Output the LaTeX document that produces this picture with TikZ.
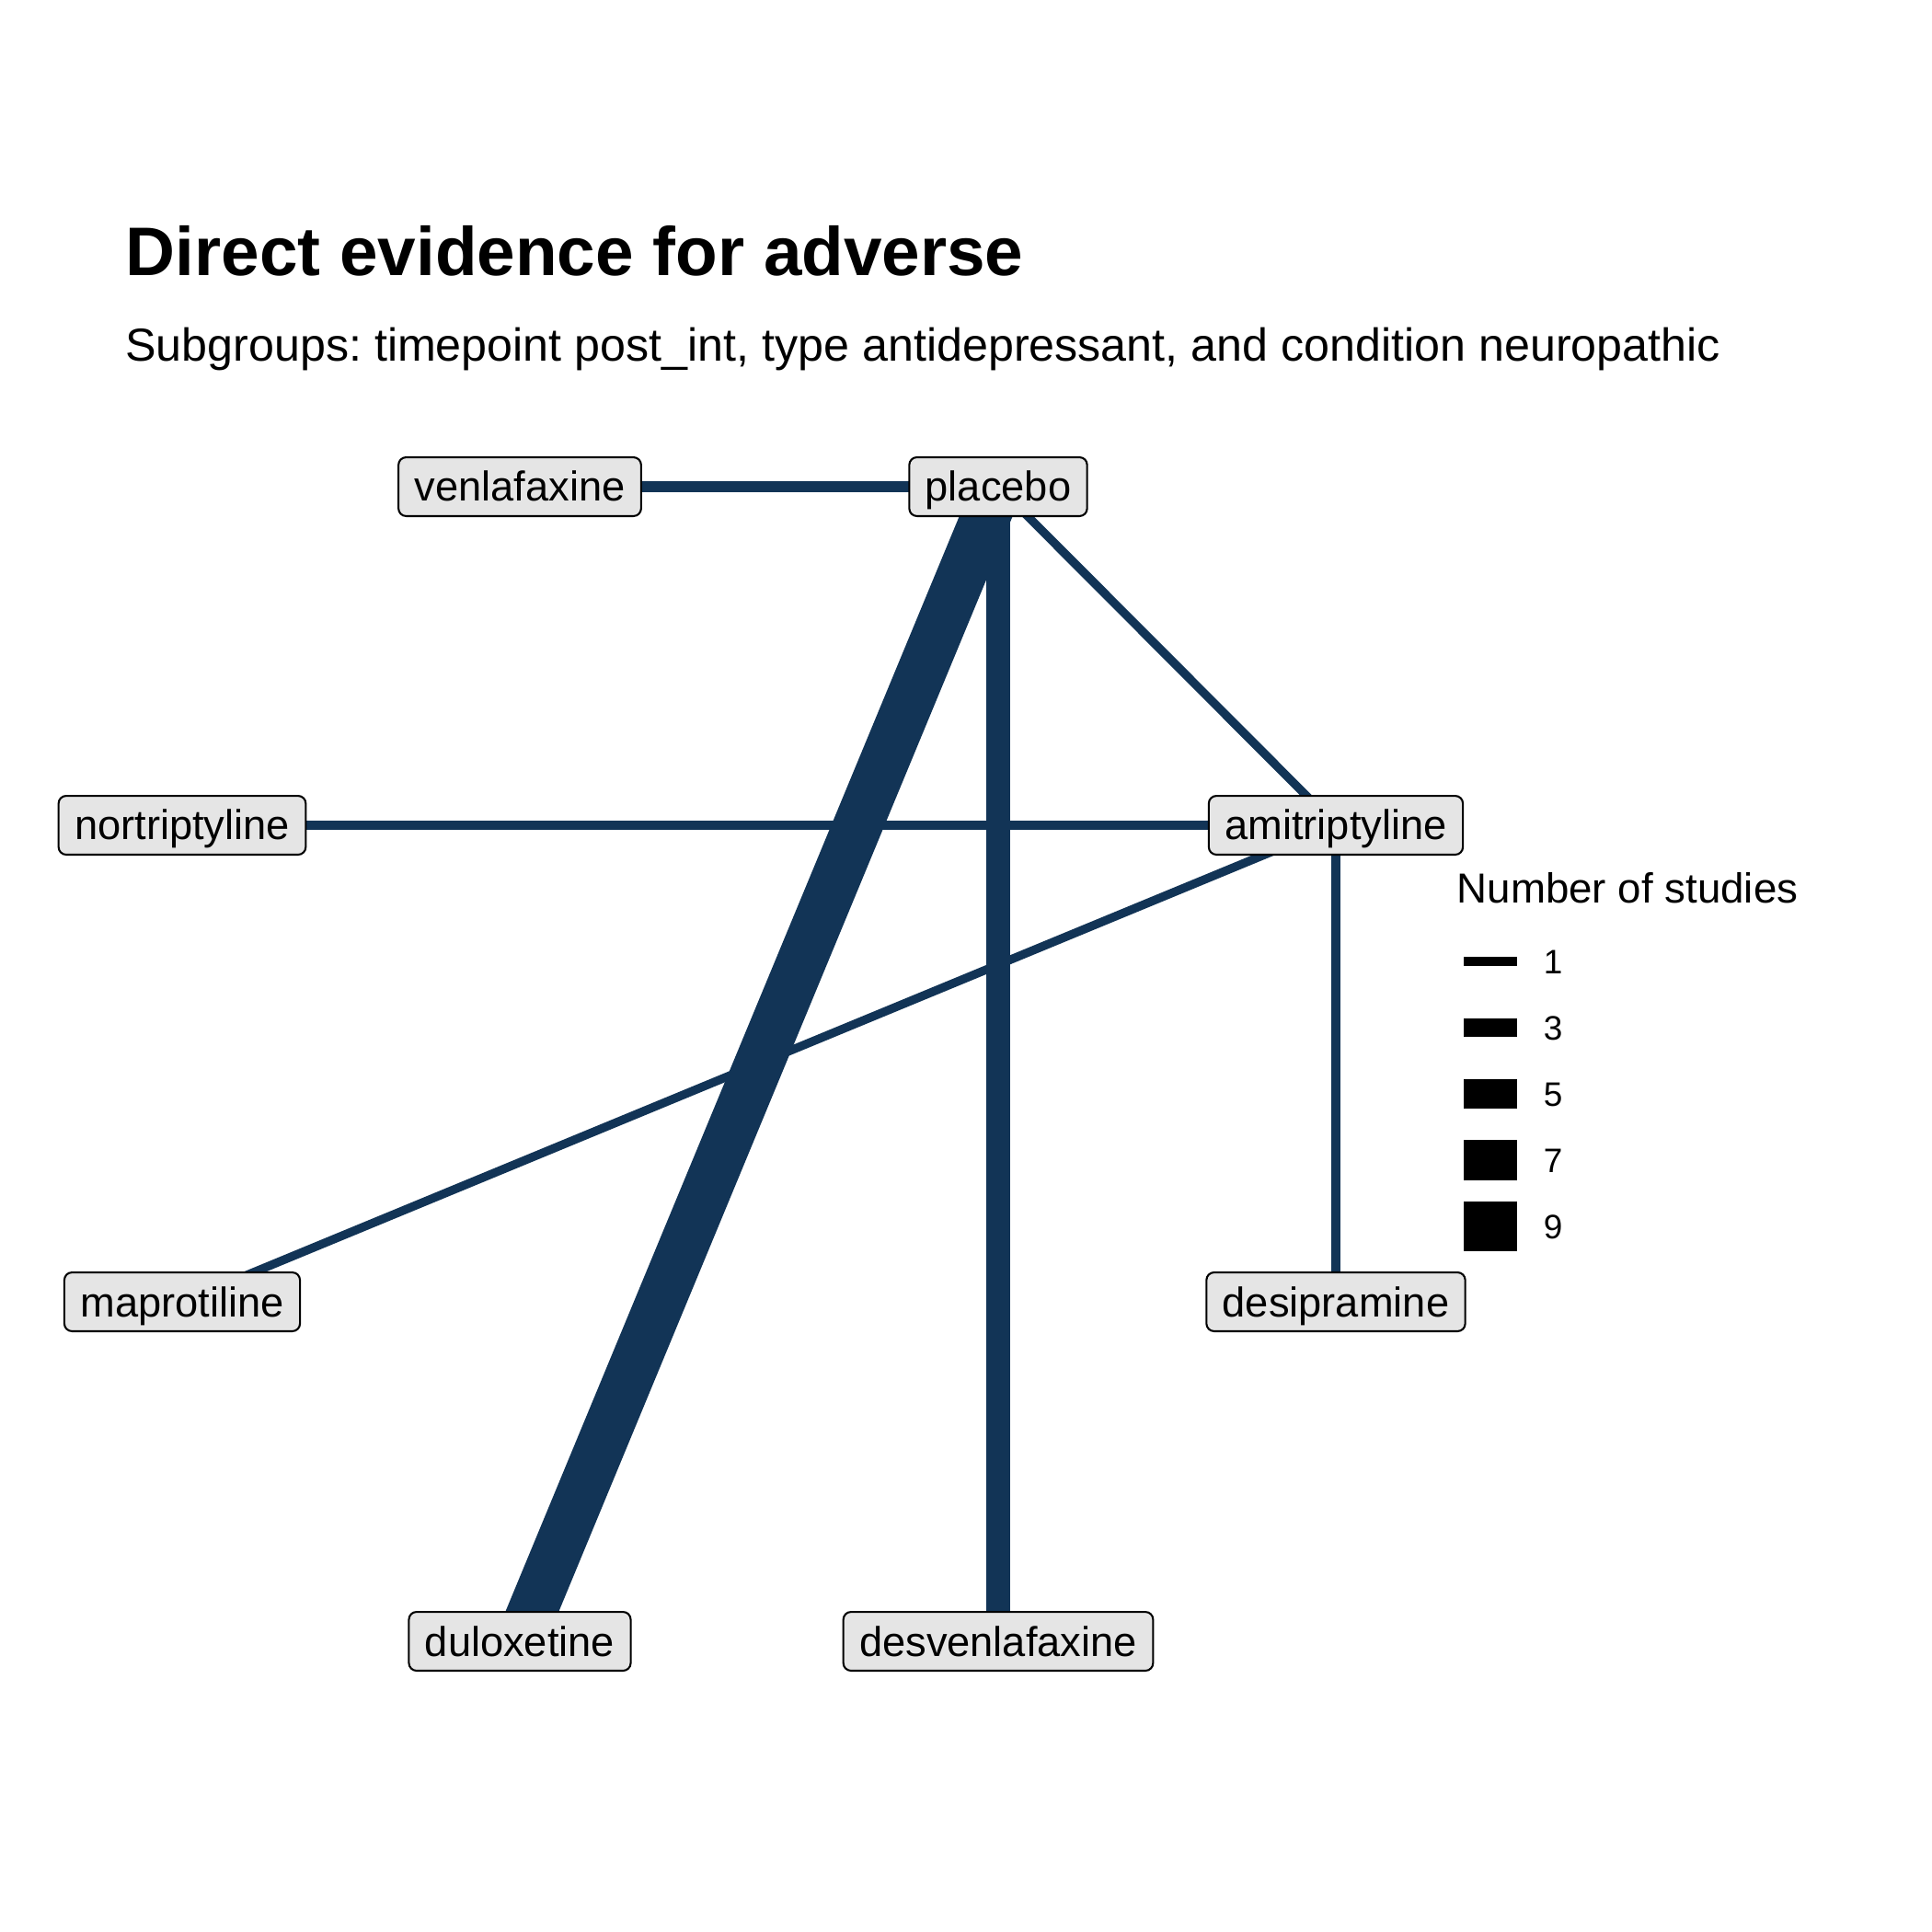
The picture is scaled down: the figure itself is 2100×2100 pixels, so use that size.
\documentclass[tikz,border=0pt]{standalone}
\usepackage{fontspec}
\setmainfont{Liberation Sans}
\usetikzlibrary{backgrounds}
\definecolor{netblue}{HTML}{123456}
\definecolor{labelfill}{gray}{0.9}
\tikzset{
  drug/.style={draw=black, line width=0.5pt, fill=labelfill, rounded corners=2pt,
    font=\fontsize{10.9}{13}\selectfont, text height=9.8pt, text depth=2.1pt,
    inner xsep=4.2pt, inner ysep=1.75pt},
  edge/.style={draw=netblue, line cap=butt},
}
\frenchspacing
\begin{document}
\begin{tikzpicture}[x=0.0084667cm, y=-0.0084667cm]
  \useasboundingbox (0,0) rectangle (2100,2100);
  \node[anchor=base west, inner sep=0, font=\fontsize{18}{22}\selectfont\bfseries] (title) at (136,299) {Direct evidence for adverse};
  \node[anchor=base west, inner sep=0, font=\fontsize{12.1}{15}\selectfont] (subtitle) at (135.5,392) {Subgroups: timepoint post\_int, type antidepressant, and condition neuropathic};
  % treatments
  \node[drug] (venl) at (565,529) {venlafaxine};
  \node[drug] (plac) at (1085,529) {placebo};
  \node[drug] (nort) at (198,897) {nortriptyline};
  \node[drug] (amit) at (1452,897) {amitriptyline};
  \node[drug] (mapr) at (198,1415) {maprotiline};
  \node[drug] (desi) at (1452,1415) {desipramine};
  \node[drug] (dulo) at (565,1784) {duloxetine};
  \node[drug] (desv) at (1085,1784) {desvenlafaxine};
  % comparisons, width by number of studies
  \begin{scope}[on background layer]
    \draw[edge, line width=3pt](venl.center)--(plac.center);
    \draw[edge, line width=12.9pt](plac.center)--(dulo.center);
    \draw[edge, line width=6.2pt](plac.center)--(desv.center);
    \draw[edge, line width=2.24pt](plac.center)--(amit.center);
    \draw[edge, line width=2.24pt](nort.center)--(amit.center);
    \draw[edge, line width=2.24pt](amit.center)--(mapr.center);
    \draw[edge, line width=2.24pt](amit.center)--(desi.center);
  \end{scope}
  % legend
  \node[anchor=base west, inner sep=0, font=\fontsize{11}{13}\selectfont] (legtitle) at (1583,981) {Number of studies};
  \foreach \n/\w/\yy in {1/2.24/1045, 3/4.8/1117, 5/7.5/1189, 7/10.4/1261, 9/12.8/1333}{
    \draw[line width=\w pt](1591,\yy)--(1649,\yy);
    \node[anchor=base west, inner sep=0, font=\fontsize{8.9}{11}\selectfont] (key\n) at (1677,\yy+13) {\n};
  }
\end{tikzpicture}
\end{document}
